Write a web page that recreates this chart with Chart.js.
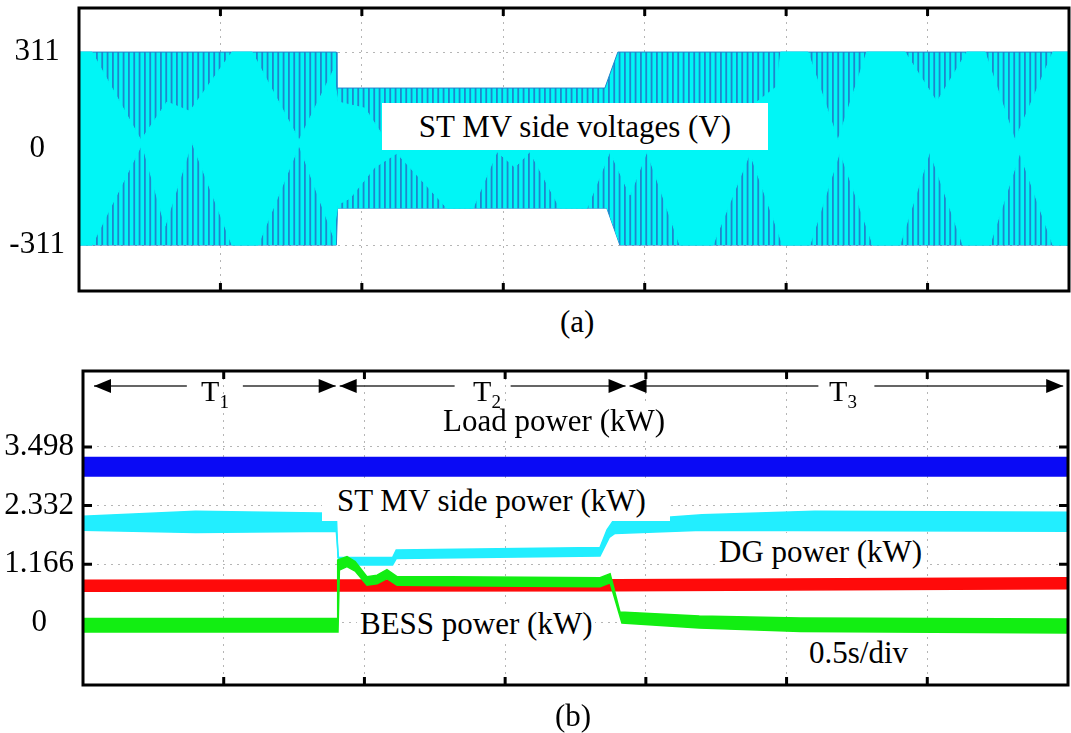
<!DOCTYPE html>
<html>
<head>
<meta charset="utf-8">
<script src="https://cdn.jsdelivr.net/npm/chart.js@4.4.1/dist/chart.umd.min.js"></script>
<style>
  body { margin: 0; background: #fff; }
  #page { position: relative; width: 1071px; height: 733px; overflow: hidden; font-family: "Liberation Serif", "Times New Roman", serif; color: #000; }
  canvas { position: absolute; left: 0; }
  .lbl { position: absolute; font-size: 31px; white-space: nowrap; background: #fff; box-sizing: border-box; }
  .cap { position: absolute; font-size: 31px; line-height: 36px; white-space: nowrap; }
  .tl { position: absolute; top: 373px; font-size: 30px; line-height: 36px; transform: translateX(-50%); white-space: nowrap; z-index: 2; }
  .tl sub { font-size: 19px; vertical-align: -0.35em; line-height: 0; }
</style>
</head>
<body>
<div id="page">
  <canvas id="voltChart" width="1071" height="300" style="top:0"></canvas>
  <canvas id="powerChart" width="1071" height="340" style="top:360px"></canvas>

  <div class="lbl" style="left:382px;top:103px;width:386px;height:47px;line-height:47px;text-align:center">ST MV side voltages (V)</div>
  <div class="cap" style="left:560px;top:304px">(a)</div>

  <div class="tl" style="left:215px">T<sub>1</sub></div>
  <div class="tl" style="left:487px">T<sub>2</sub></div>
  <div class="tl" style="left:843px">T<sub>3</sub></div>
  <div class="lbl" style="left:440px;top:406px;height:31px;line-height:30px;padding:0 3px">Load power (kW)</div>
  <div class="lbl" style="left:322px;top:480px;width:348px;height:41px;line-height:41px;padding-left:15px">ST MV side power (kW)</div>
  <div class="lbl" style="left:716px;top:533px;height:38px;line-height:38px;padding:0 3px">DG power (kW)</div>
  <div class="lbl" style="left:357px;top:605px;height:38px;line-height:38px;padding:0 3px">BESS power (kW)</div>
  <div class="lbl" style="left:806px;top:634px;height:38px;line-height:38px;padding:0 3px">0.5s/div</div>
  <div class="cap" style="left:555px;top:698px">(b)</div>
</div>

<script>
// ---- panel (a): ST MV side voltages, time in s (0.5 s/div) ----
const voltTicks = [-311, 0, 311];
const envUpperT = [0, 0.910, 0.912, 1.859, 1.905, 3.5];
const envUpperV = [311, 311, 195, 195, 311, 311];
const envLowerT = [0, 0.910, 0.914, 1.866, 1.912, 3.5];
const envLowerV = [-311, -311, -192, -192, -311, -311];

// tips of the striped (aliased) regions: cyan lobes lie between these two outlines
const lobeTopT = [0, 0.046, 0.219, 0.311, 0.392, 0.541, 0.612, 0.778, 0.898, 0.916, 1.011, 1.075, 1.124, 1.347,
  1.478, 1.594, 1.746, 1.859, 1.884, 1.983, 2.160, 2.354, 2.467, 2.481, 2.577, 2.683, 2.785, 2.920, 3.033,
  3.139, 3.203, 3.309, 3.443, 3.5];
const lobeTopV = [311, 311, 27, 150, 120, 311, 311, 27, 250, 150, 130, 40, 20, 140,
  20, 40, 140, 30, 30, 120, 60, 120, 200, 311, 311, 27, 311, 311, 150,
  311, 311, 27, 311, 311];
const lobeBottomT = [0, 0.046, 0.223, 0.304, 0.399, 0.541, 0.633, 0.778, 0.898, 0.916, 0.958, 1.046, 1.124,
  1.301, 1.393, 1.478, 1.541, 1.594, 1.700, 1.796, 1.877, 1.948, 2.008, 2.124, 2.241, 2.372, 2.488, 2.584,
  2.690, 2.807, 2.902, 3.008, 3.125, 3.220, 3.326, 3.443, 3.5];
const lobeBottomV = [-311, -311, 15, -250, 20, -311, -311, 10, -280, -180, -160, -60, -15,
  -192, -192, -10, -60, -10, -192, -192, -10, -150, -10, -311, -311, -15, -311, -311,
  -10, -311, -311, -10, -311, -311, -15, -311, -311];

// ---- panel (b): powers in kW ----
const powerTicks = [0, 1.166, 2.332, 3.498];
const loadT = [0, 3.5];
const loadHi = [3.29, 3.29];
const loadLo = [2.92, 2.92];

const stHiT = [0, 0.40, 0.900, 0.906, 1.100, 1.113, 1.837, 1.862, 1.883, 2.2, 2.6, 3.5];
const stHi = [2.12, 2.22, 2.18, 1.30, 1.30, 1.45, 1.50, 1.85, 2.02, 2.15, 2.22, 2.20];
const stLoT = [0, 0.40, 0.900, 0.910, 1.100, 1.113, 1.837, 1.870, 1.890, 2.2, 3.5];
const stLo = [1.84, 1.80, 1.82, 1.15, 1.15, 1.28, 1.33, 1.70, 1.78, 1.84, 1.82];

const dgT = [0, 1.9, 3.5];
const dgHi = [0.85, 0.86, 0.90];
const dgLo = [0.63, 0.64, 0.68];

const bessHiT = [0, 0.903, 0.905, 0.938, 0.967, 1.009, 1.045, 1.080, 1.116, 1.304, 1.837, 1.873, 1.908, 2.19, 2.55, 3.5];
const bessHi = [0.09, 0.09, 1.25, 1.32, 1.22, 0.92, 0.95, 1.06, 0.92, 0.92, 0.90, 0.98, 0.22, 0.14, 0.10, 0.08];
const bessLoT = [0, 0.906, 0.911, 0.938, 0.967, 1.009, 1.045, 1.080, 1.116, 1.304, 1.837, 1.873, 1.915, 2.19, 2.55, 3.5];
const bessLo = [-0.18, -0.18, 1.05, 1.12, 1.03, 0.75, 0.78, 0.88, 0.75, 0.74, 0.72, 0.80, 0.00, -0.10, -0.17, -0.20];

const phaseEdges = [0.032, 0.905, 1.935, 3.49];

const pts = (t, v) => t.map((x, i) => ({ x, y: v[i] }));

// vertical blue stripes on cyan, like the dense scope trace
const tile = document.createElement("canvas");
tile.width = 16; tile.height = 8;
const tc = tile.getContext("2d");
tc.fillStyle = "#00f6f6"; tc.fillRect(0, 0, 16, 8);
tc.fillStyle = "#1f86cc";
[0, 5.33, 10.67].forEach((x) => tc.fillRect(x, 0, 1.8, 8));
const stripes = document.getElementById("voltChart").getContext("2d").createPattern(tile, "repeat");

const frame = (withY) => ({
  id: "frame",
  beforeDatasetsDraw(chart) {
    const { ctx, chartArea: a, scales: { x, y } } = chart;
    ctx.save();
    ctx.strokeStyle = "#000";
    ctx.lineWidth = 3;
    ctx.beginPath();
    x.ticks.forEach((tk) => {
      if (tk.value <= 0 || tk.value >= 3.5) return;
      const px = x.getPixelForValue(tk.value);
      ctx.moveTo(px, a.bottom); ctx.lineTo(px, a.bottom - 8);
      ctx.moveTo(px, a.top); ctx.lineTo(px, a.top + 8);
    });
    if (withY) {
      y.ticks.forEach((tk) => {
        const py = y.getPixelForValue(tk.value);
        ctx.moveTo(a.left, py); ctx.lineTo(a.left + 9, py);
        ctx.moveTo(a.right, py); ctx.lineTo(a.right - 9, py);
      });
    }
    ctx.stroke();
    ctx.restore();
  },
  afterDatasetsDraw(chart) {
    const { ctx, chartArea: a } = chart;
    ctx.save();
    ctx.strokeStyle = "#000";
    ctx.lineWidth = 3;
    ctx.strokeRect(a.left, a.top, a.right - a.left, a.bottom - a.top);
    ctx.restore();
  },
});

const phaseArrows = {
  id: "phaseArrows",
  afterDraw(chart) {
    const { ctx, chartArea: a, scales: { x } } = chart;
    const y = a.top + 15;
    const head = (tip, dir) => {
      ctx.beginPath();
      ctx.moveTo(tip, y);
      ctx.lineTo(tip - dir * 17, y - 7);
      ctx.lineTo(tip - dir * 17, y + 7);
      ctx.closePath();
      ctx.fill();
    };
    ctx.save();
    ctx.strokeStyle = "#333";
    ctx.fillStyle = "#000";
    ctx.lineWidth = 1.5;
    for (let i = 0; i < phaseEdges.length - 1; i++) {
      const x0 = x.getPixelForValue(phaseEdges[i]) + 2;
      const x1 = x.getPixelForValue(phaseEdges[i + 1]) - 2;
      const mid = (x0 + x1) / 2;
      ctx.beginPath();
      ctx.moveTo(x0, y); ctx.lineTo(mid - 28, y);
      ctx.moveTo(mid + 28, y); ctx.lineTo(x1, y);
      ctx.stroke();
      head(x0, -1);
      head(x1, 1);
    }
    ctx.restore();
  },
};

const xScale = {
  type: "linear", min: 0, max: 3.5,
  ticks: { display: false, stepSize: 0.5 },
  grid: { color: "#b5b5b5", drawTicks: false },
  border: { display: false, dash: [2, 5] },
  afterFit: (s) => { s.height = 0; s.paddingLeft = 0; s.paddingRight = 0; },
};

const yScale = (min, max, vals, width, pad) => ({
  type: "linear", min, max,
  afterBuildTicks: (s) => { s.ticks = vals.map((v) => ({ value: v })); },
  ticks: {
    color: "#000", padding: pad, crossAlign: "center",
    font: { family: "Liberation Serif", size: 31 },
    callback: (v) => String(v),
  },
  grid: { color: "#b5b5b5", drawTicks: false },
  border: { display: false, dash: [2, 5] },
  afterFit: (s) => { s.width = width; s.paddingTop = 0; s.paddingBottom = 0; },
});

const common = {
  responsive: false, animation: false, devicePixelRatio: 1,
  plugins: { legend: { display: false }, tooltip: { enabled: false } },
  elements: { point: { radius: 0 }, line: { tension: 0 } },
};

new Chart(document.getElementById("voltChart"), {
  type: "line",
  data: {
    datasets: [
      { data: pts(lobeTopT, lobeTopV), fill: "+1", backgroundColor: "#00f6f6", borderColor: "#00f6f6", borderWidth: 1 },
      { data: pts(lobeBottomT, lobeBottomV), fill: false, borderColor: "#00f6f6", borderWidth: 1 },
      { data: pts(envUpperT, envUpperV), fill: "+1", backgroundColor: stripes, borderColor: "#1f86cc", borderWidth: 1 },
      { data: pts(envLowerT, envLowerV), fill: false, borderColor: "#1f86cc", borderWidth: 1 },
    ],
  },
  options: {
    ...common,
    layout: { padding: { left: 0, top: 8, right: 2, bottom: 9 } },
    scales: { x: xScale, y: yScale(-459, 453, voltTicks, 79, 14) },
  },
  plugins: [frame(false)],
});

const band = (hiT, hi, loT, lo, color) => [
  { data: pts(hiT, hi), fill: "+1", backgroundColor: color, borderColor: color, borderWidth: 1.5 },
  { data: pts(loT, lo), fill: false, borderColor: color, borderWidth: 1.5 },
];

new Chart(document.getElementById("powerChart"), {
  type: "line",
  data: {
    datasets: [
      ...band(bessHiT, bessHi, bessLoT, bessLo, "#12ee12"),
      ...band(dgT, dgHi, dgT, dgLo, "#ff0a0a"),
      ...band(stHiT, stHi, stLoT, stLo, "#22eeff"),
      ...band(loadT, loadHi, loadT, loadLo, "#0a0af5"),
    ],
  },
  options: {
    ...common,
    layout: { padding: { left: 0, top: 11, right: 3, bottom: 15 } },
    scales: { x: xScale, y: yScale(-1.232, 5.006, powerTicks, 83, 9) },
  },
  plugins: [frame(true), phaseArrows],
});
</script>
</body>
</html>
